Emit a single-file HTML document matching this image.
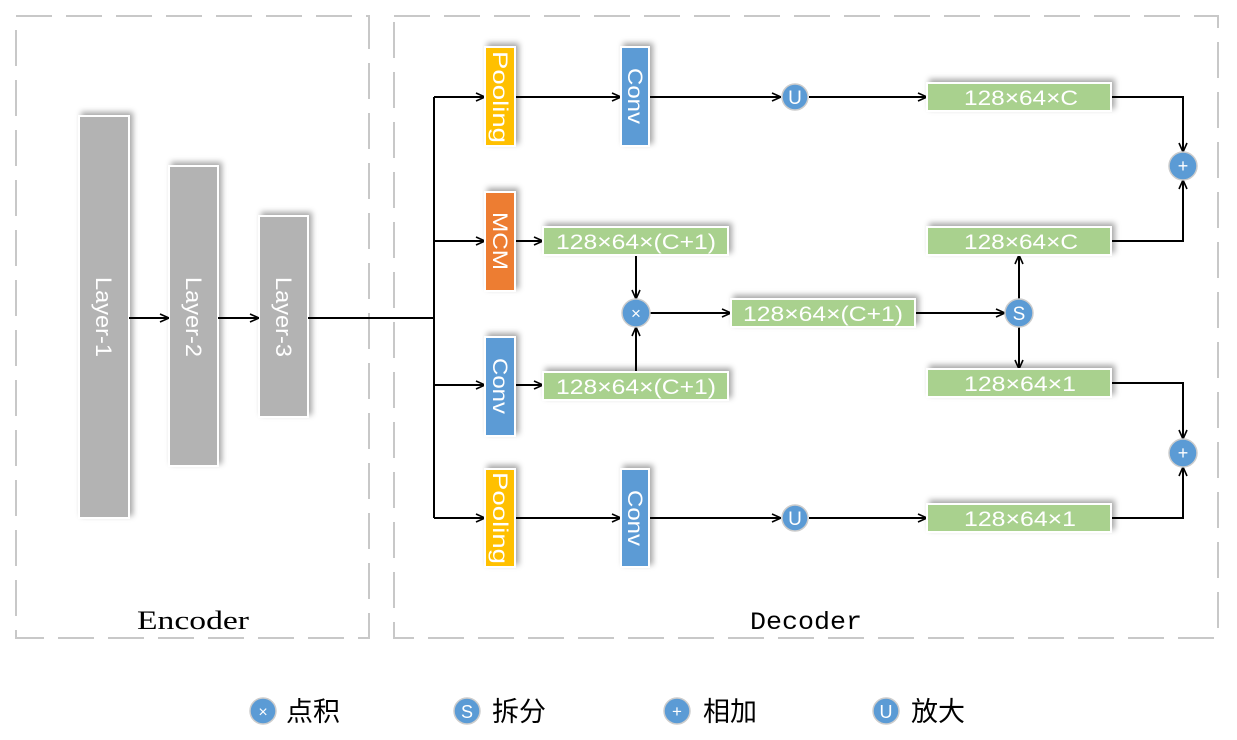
<!DOCTYPE html>
<html><head><meta charset="utf-8"><style>
html,body{margin:0;padding:0;background:#fff;}
svg{display:block;}
.w{fill:#fff;font-family:"Liberation Sans","DejaVu Sans",sans-serif;}
</style></head><body>
<svg width="1237" height="740" viewBox="0 0 1237 740" xmlns="http://www.w3.org/2000/svg">
<defs>
<marker id="a" viewBox="0 0 10 10" refX="10" refY="5" markerWidth="10" markerHeight="10" markerUnits="userSpaceOnUse" orient="auto">
<path d="M1,1 L10,5 L1,9" fill="none" stroke="#000" stroke-width="1.6"/>
</marker>
<filter id="sh" x="-30%" y="-30%" width="160%" height="160%">
<feDropShadow dx="3" dy="-3" stdDeviation="3" flood-color="#000" flood-opacity="0.35"/>
</filter>
</defs>
<rect x="16" y="16" width="353" height="622" fill="none" stroke="#c8c8c8" stroke-width="2" stroke-dasharray="36,14"/>
<rect x="394" y="16" width="824" height="622" fill="none" stroke="#c8c8c8" stroke-width="2" stroke-dasharray="36,14"/>
<text x="193" y="629" text-anchor="middle" font-family="Liberation Serif,serif" font-size="26" textLength="112" lengthAdjust="spacingAndGlyphs">Encoder</text>
<text x="806" y="629" text-anchor="middle" font-family="Liberation Mono,monospace" font-size="25" textLength="112" lengthAdjust="spacingAndGlyphs">Decoder</text>

<g filter="url(#sh)">
<rect x="79" y="116" width="50" height="402" fill="#b3b3b3" stroke="#fff" stroke-width="2"/>
<rect x="169" y="166" width="49" height="300" fill="#b3b3b3" stroke="#fff" stroke-width="2"/>
<rect x="259" y="216" width="49" height="201" fill="#b3b3b3" stroke="#fff" stroke-width="2"/>
</g>
<text class="w" font-size="22" transform="translate(96,317) rotate(90)" text-anchor="middle" textLength="80" lengthAdjust="spacingAndGlyphs">Layer-1</text>
<text class="w" font-size="22" transform="translate(186,317) rotate(90)" text-anchor="middle" textLength="80" lengthAdjust="spacingAndGlyphs">Layer-2</text>
<text class="w" font-size="22" transform="translate(276,317) rotate(90)" text-anchor="middle" textLength="80" lengthAdjust="spacingAndGlyphs">Layer-3</text>

<g stroke="#000" stroke-width="2" fill="none">
<line x1="129" y1="318" x2="169" y2="318" marker-end="url(#a)"/>
<line x1="218" y1="318" x2="259" y2="318" marker-end="url(#a)"/>
<line x1="308" y1="318" x2="434" y2="318"/>
<line x1="434" y1="97" x2="434" y2="518"/>
<line x1="434" y1="97" x2="485" y2="97" marker-end="url(#a)"/>
<line x1="434" y1="241" x2="485" y2="241" marker-end="url(#a)"/>
<line x1="434" y1="385" x2="485" y2="385" marker-end="url(#a)"/>
<line x1="434" y1="518" x2="485" y2="518" marker-end="url(#a)"/>
<line x1="514" y1="97" x2="621" y2="97" marker-end="url(#a)"/>
<line x1="648" y1="97" x2="781" y2="97" marker-end="url(#a)"/>
<line x1="809" y1="97" x2="927" y2="97" marker-end="url(#a)"/>
<line x1="514" y1="518" x2="621" y2="518" marker-end="url(#a)"/>
<line x1="648" y1="518" x2="781" y2="518" marker-end="url(#a)"/>
<line x1="809" y1="518" x2="927" y2="518" marker-end="url(#a)"/>
<line x1="514" y1="241" x2="543" y2="241" marker-end="url(#a)"/>
<line x1="514" y1="385" x2="543" y2="385" marker-end="url(#a)"/>
<line x1="636" y1="255" x2="636" y2="299" marker-end="url(#a)"/>
<line x1="636" y1="373" x2="636" y2="327" marker-end="url(#a)"/>
<line x1="650" y1="313" x2="731" y2="313" marker-end="url(#a)"/>
<line x1="914" y1="313" x2="1005" y2="313" marker-end="url(#a)"/>
<line x1="1019" y1="299" x2="1019" y2="255" marker-end="url(#a)"/>
<line x1="1019" y1="327" x2="1019" y2="369" marker-end="url(#a)"/>
<polyline points="1110,97 1183,97 1183,152" marker-end="url(#a)"/>
<polyline points="1110,241 1183,241 1183,180" marker-end="url(#a)"/>
<polyline points="1110,383 1183,383 1183,439" marker-end="url(#a)"/>
<polyline points="1110,518 1183,518 1183,467" marker-end="url(#a)"/>
</g>

<g filter="url(#sh)" stroke="#fff" stroke-width="2">
<rect x="485" y="47" width="30" height="99" fill="#FFC000"/>
<rect x="621" y="47" width="28" height="99" fill="#5B9BD5"/>
<rect x="485" y="192" width="30" height="99" fill="#ED7D31"/>
<rect x="485" y="337" width="30" height="99" fill="#5B9BD5"/>
<rect x="485" y="469" width="30" height="98" fill="#FFC000"/>
<rect x="621" y="469" width="28" height="98" fill="#5B9BD5"/>
<rect x="543" y="227" width="185" height="28" fill="#A9D18E"/>
<rect x="543" y="372" width="185" height="28" fill="#A9D18E"/>
<rect x="731" y="299" width="184" height="28" fill="#A9D18E"/>
<rect x="927" y="83" width="184" height="28" fill="#A9D18E"/>
<rect x="927" y="227" width="184" height="28" fill="#A9D18E"/>
<rect x="927" y="369" width="184" height="28" fill="#A9D18E"/>
<rect x="927" y="504" width="184" height="28" fill="#A9D18E"/>
</g>
<g class="w" font-size="21">
<text transform="translate(493,97) rotate(90)" text-anchor="middle" textLength="92" lengthAdjust="spacingAndGlyphs">Pooling</text>
<text transform="translate(628,96) rotate(90)" text-anchor="middle" textLength="56" lengthAdjust="spacingAndGlyphs">Conv</text>
<text transform="translate(493,241) rotate(90)" text-anchor="middle" textLength="58" lengthAdjust="spacingAndGlyphs">MCM</text>
<text transform="translate(493,386) rotate(90)" text-anchor="middle" textLength="56" lengthAdjust="spacingAndGlyphs">Conv</text>
<text transform="translate(493,518) rotate(90)" text-anchor="middle" textLength="92" lengthAdjust="spacingAndGlyphs">Pooling</text>
<text transform="translate(628,518) rotate(90)" text-anchor="middle" textLength="56" lengthAdjust="spacingAndGlyphs">Conv</text>
</g>
<g class="w" font-size="21" text-anchor="middle">
<text x="636" y="249" textLength="160" lengthAdjust="spacingAndGlyphs">128×64×(C+1)</text>
<text x="636" y="394" textLength="160" lengthAdjust="spacingAndGlyphs">128×64×(C+1)</text>
<text x="823" y="321" textLength="160" lengthAdjust="spacingAndGlyphs">128×64×(C+1)</text>
<text x="1021" y="105" textLength="114" lengthAdjust="spacingAndGlyphs">128×64×C</text>
<text x="1021" y="249" textLength="114" lengthAdjust="spacingAndGlyphs">128×64×C</text>
<text x="1020" y="391" textLength="112" lengthAdjust="spacingAndGlyphs">128×64×1</text>
<text x="1020" y="526" textLength="112" lengthAdjust="spacingAndGlyphs">128×64×1</text>
</g>

<g fill="#5B9BD5" stroke="#ccc" stroke-width="1.5">
<circle cx="795" cy="97" r="13"/>
<circle cx="795" cy="518" r="13"/>
<circle cx="636" cy="313" r="14"/>
<circle cx="1019" cy="313" r="14"/>
<circle cx="1183" cy="166" r="14"/>
<circle cx="1183" cy="453" r="14"/>
<circle cx="263" cy="711" r="13"/>
<circle cx="467" cy="711" r="13"/>
<circle cx="677" cy="711" r="13"/>
<circle cx="886" cy="711" r="13"/>
</g>
<g class="w" text-anchor="middle">
<text x="795" y="104" font-size="19">U</text>
<text x="795" y="525" font-size="19">U</text>
<text x="636" y="319" font-size="17">×</text>
<text x="1019" y="320" font-size="19">S</text>
<text x="1183" y="172" font-size="18">+</text>
<text x="1183" y="459" font-size="18">+</text>
<text x="263" y="717" font-size="16">×</text>
<text x="467" y="718" font-size="18">S</text>
<text x="677" y="717" font-size="17">+</text>
<text x="886" y="718" font-size="18">U</text>
</g>
<g font-family="Liberation Sans,'Noto Sans CJK SC',sans-serif" font-size="27" fill="#000">
<text x="286" y="721">点积</text>
<text x="492" y="721">拆分</text>
<text x="703" y="721">相加</text>
<text x="911" y="721">放大</text>
</g>
</svg>
</body></html>
